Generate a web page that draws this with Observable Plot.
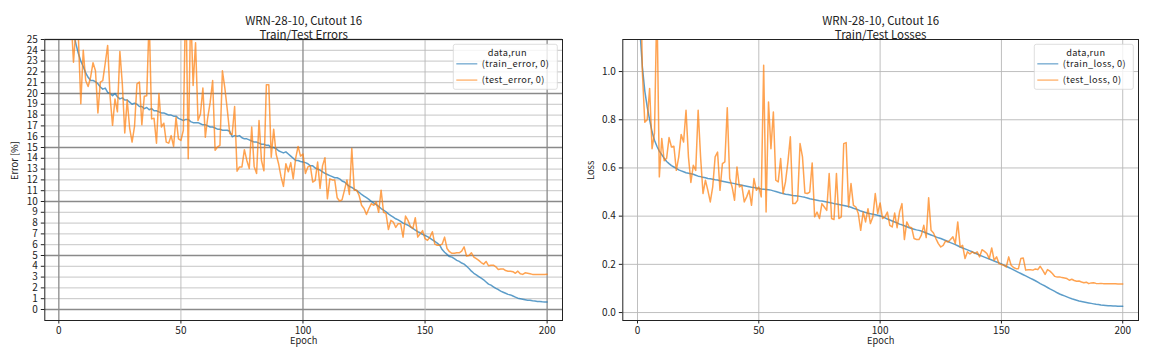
<!DOCTYPE html>
<html><head><meta charset="utf-8">
<script src="https://cdn.jsdelivr.net/npm/d3@7"></script>
<script src="https://cdn.jsdelivr.net/npm/@observablehq/plot@0.6"></script>
<style>
body{margin:0;background:#fff;}
#wrap{width:1152px;height:360px;display:flex;}
#wrap svg{display:block;}
</style></head><body><div id="wrap"></div>
<script>
const epochs = d3.range(1, 201);

const trainError = [45,36,31,28.5,26.8,25.6,24.6,23.7,23.0,22.5,
21.9,21.5,21.2,21.2,21.1,20.9,20.6,20.4,20.5,20.1,
20.0,19.8,20.0,19.7,19.5,19.6,19.4,19.4,19.2,19.0,
19.1,19.0,18.8,18.8,18.6,18.7,18.5,18.6,18.4,18.4,
18.3,18.2,18.2,18.1,18.0,18.0,17.9,17.9,17.7,17.6,
17.5,17.6,17.6,17.4,17.3,17.3,17.3,17.2,17.1,17.1,
17.0,16.9,16.9,16.8,16.7,16.7,16.6,16.6,16.6,16.5,
16.0,16.1,16.05,16.1,15.9,15.8,15.8,15.7,15.6,15.5,
15.5,15.4,15.3,15.3,15.2,15.2,15.0,15.0,14.9,14.7,
14.6,14.5,14.6,14.4,14.2,14.0,13.8,13.8,13.7,13.65,
13.6,13.5,13.3,13.3,13.1,13.0,12.9,12.75,12.6,12.5,
12.4,12.3,12.2,12.2,12.1,11.9,11.8,11.6,11.4,11.3,
11.15,11.0,10.85,10.65,10.5,10.35,10.2,10.0,9.85,9.7,
9.55,9.35,9.2,9.05,8.85,8.7,8.55,8.4,8.3,8.15,
8.0,7.9,7.8,7.65,7.5,7.35,7.2,7.1,6.95,6.85,
6.75,6.6,6.45,6.3,6.15,5.95,5.55,5.3,5.1,4.9,
4.85,4.7,4.55,4.45,4.3,4.2,4.0,3.8,3.55,3.35,
3.2,3.05,2.9,2.75,2.55,2.35,2.25,2.1,1.95,1.85,
1.7,1.6,1.5,1.4,1.35,1.25,1.15,1.05,1.0,0.95,
0.9,0.85,0.85,0.8,0.78,0.75,0.75,0.72,0.7,0.7];

const testError = [62,45,36,31,27.1,22.9,26,25.3,19.05,24,
21.2,20.65,21.5,22.85,22.1,18.2,21.05,21.2,22.8,24.45,
19.7,17.05,19.5,18.3,23.9,20.9,16.35,19.4,16.8,15.5,
16.95,20.9,21.05,17.1,19.75,19.8,27,17.65,17.7,15.4,
20,16.9,17.25,15.5,15.4,16.1,15.1,17.8,15.8,15.65,
16.6,30,13.95,28,20.75,24.7,17.5,18.1,20.5,15.95,
17.8,19.2,21.2,14.75,15.05,15.2,22.1,20.5,18.5,16.3,
16.2,18.8,12.8,13.2,13.2,14.8,13.8,13.05,16.9,13.25,
12.6,17.5,13.8,12.85,20.8,20.8,14.1,16.7,14.4,13.5,
12.3,11.4,13.5,12.75,13.6,12.1,14.0,15.1,14.2,14.4,
12.6,13.2,13.3,11.8,11.95,13.65,11.2,13.3,14.05,10.25,
12.1,12.0,12.0,10.35,10.05,10.15,11.05,12.0,10.65,14.9,
11.05,11.05,10.55,9.65,9.35,8.8,9.35,9.8,9.65,9.95,
9.0,11.05,9.0,8.9,7.4,8.25,8.1,7.6,7.95,7.95,
6.7,8.65,8.25,7.7,7.5,8.5,6.7,7.0,7.3,6.55,
6.4,6.7,7.2,6.05,5.95,5.95,6.05,6.7,5.65,5.35,
5.2,5.2,5.25,5.25,5.4,5.8,4.95,5.0,5.25,4.85,
4.7,4.55,4.35,4.2,4.45,4.05,4.1,4.1,3.95,3.7,
3.75,3.75,3.6,3.55,3.55,3.5,3.35,3.55,3.3,3.25,
3.4,3.35,3.3,3.25,3.25,3.25,3.25,3.25,3.25,3.27];

const trainLoss = [1.17,1.02,0.92,0.853,0.80,0.75,0.715,0.69,0.67,0.655,
0.64,0.627,0.618,0.61,0.604,0.598,0.592,0.588,0.584,0.58,
0.578,0.576,0.574,0.57,0.566,0.564,0.561,0.559,0.556,0.555,
0.553,0.551,0.55,0.547,0.545,0.543,0.541,0.539,0.537,0.535,
0.532,0.53,0.528,0.526,0.524,0.522,0.52,0.519,0.517,0.515,
0.513,0.512,0.511,0.51,0.508,0.505,0.502,0.499,0.496,0.494,
0.491,0.49,0.488,0.486,0.485,0.484,0.482,0.48,0.478,0.475,
0.472,0.47,0.468,0.466,0.464,0.463,0.461,0.459,0.457,0.455,
0.452,0.45,0.448,0.446,0.444,0.442,0.44,0.437,0.433,0.43,
0.426,0.421,0.418,0.415,0.412,0.41,0.408,0.406,0.404,0.401,
0.398,0.393,0.388,0.384,0.38,0.376,0.372,0.367,0.364,0.36,
0.356,0.352,0.349,0.346,0.343,0.341,0.338,0.334,0.33,0.326,
0.322,0.318,0.314,0.31,0.307,0.303,0.299,0.295,0.29,0.286,
0.282,0.277,0.272,0.268,0.264,0.26,0.256,0.252,0.247,0.243,
0.238,0.234,0.23,0.226,0.222,0.218,0.214,0.21,0.206,0.202,
0.197,0.192,0.187,0.182,0.177,0.172,0.167,0.162,0.157,0.152,
0.147,0.142,0.137,0.132,0.126,0.12,0.115,0.11,0.104,0.098,
0.093,0.088,0.082,0.077,0.073,0.069,0.065,0.061,0.057,0.054,
0.051,0.048,0.046,0.044,0.042,0.04,0.038,0.036,0.034,0.033,
0.031,0.03,0.029,0.028,0.028,0.027,0.027,0.026,0.026,0.026];

const testLoss = [1.6,1.0,0.79,0.80,0.93,0.68,0.743,1.3,0.563,0.722,
0.63,0.64,0.726,0.687,0.69,0.59,0.646,0.739,0.708,0.839,
0.646,0.54,0.611,0.59,0.839,0.646,0.494,0.549,0.507,0.459,
0.521,0.646,0.666,0.507,0.618,0.625,0.85,0.556,0.521,0.466,
0.604,0.521,0.528,0.459,0.48,0.507,0.445,0.556,0.507,0.521,
0.48,1.026,0.417,0.874,0.68,0.832,0.549,0.542,0.639,0.494,
0.542,0.625,0.729,0.452,0.452,0.466,0.701,0.646,0.496,0.494,
0.5,0.621,0.397,0.417,0.39,0.452,0.438,0.424,0.577,0.39,
0.386,0.577,0.39,0.397,0.701,0.705,0.438,0.535,0.445,0.438,
0.411,0.341,0.417,0.376,0.431,0.369,0.397,0.494,0.411,0.455,
0.39,0.397,0.417,0.362,0.355,0.413,0.352,0.417,0.452,0.303,
0.376,0.355,0.352,0.307,0.303,0.303,0.321,0.362,0.311,0.476,
0.341,0.33,0.307,0.286,0.272,0.279,0.297,0.293,0.303,0.314,
0.286,0.376,0.272,0.279,0.224,0.252,0.243,0.252,0.245,0.252,
0.231,0.261,0.254,0.245,0.224,0.268,0.217,0.231,0.203,0.199,
0.196,0.189,0.231,0.196,0.187,0.182,0.182,0.224,0.226,0.176,
0.178,0.178,0.176,0.181,0.178,0.192,0.176,0.158,0.178,0.172,
0.162,0.15,0.147,0.148,0.145,0.143,0.141,0.134,0.138,0.133,
0.13,0.131,0.127,0.124,0.126,0.12,0.123,0.124,0.121,0.12,
0.121,0.12,0.12,0.12,0.119,0.119,0.119,0.118,0.118,0.118];

const xTicks = [0, 50, 100, 150, 200];
const errTicks = d3.range(0, 26);
const errMajor = [0, 5, 10, 15, 20, 25];
const lossTicks = [0, 0.2, 0.4, 0.6, 0.8, 1.0];
const titleLine = "WRN-28-10, Cutout 16";
const legendTitle = "data,run";

const FONT = "'Noto Sans CJK JP', 'Noto Sans', sans-serif";
const BLUE = "#1f77b4", ORANGE = "#ff7f0e";

function rows(values, name) {
  return values.map((v, i) => ({epoch: epochs[i], value: v, series: name}));
}

function legendMark(items, boxW) {
  return (index, scales, values, dims) => {
    const right = dims.width - dims.marginRight;
    const x0 = right - 4.7 - boxW, y0 = dims.marginTop + 5.3, h = 45;
    const g = d3.create("svg:g").attr("font-family", FONT).attr("font-size", 9.2)
      .attr("fill", "#222").attr("letter-spacing", "0.35px");
    g.append("rect").attr("x", x0).attr("y", y0).attr("width", boxW).attr("height", h)
      .attr("rx", 2).attr("fill", "white").attr("fill-opacity", 0.8).attr("stroke", "#d6d6d6").attr("stroke-width", 0.8);
    g.append("text").attr("x", x0 + boxW / 2 + 2).attr("y", y0 + 8.5).attr("dy", "0.35em")
      .attr("text-anchor", "middle").text(legendTitle);
    items.forEach((it, k) => {
      const cy = y0 + 19.5 + k * 16.3;
      g.append("line").attr("x1", x0 + 3).attr("x2", x0 + 24).attr("y1", cy).attr("y2", cy)
        .attr("stroke", it.color).attr("stroke-opacity", 0.55).attr("stroke-width", 1.5);
      g.append("text").attr("x", x0 + 28.5).attr("y", cy).attr("dy", "0.35em")
        .attr("text-anchor", "start").text(it.label);
    });
    return g.node();
  };
}

function panel(cfg) {
  const data = cfg.series.flatMap(s => rows(s.values, s.label));
  const marks = [];
  if (cfg.yMinor) marks.push(Plot.gridY(cfg.yMinor, {stroke: "#b8b8b8", strokeOpacity: 1, strokeWidth: 0.8}));
  marks.push(Plot.gridY(cfg.yMajor, {stroke: cfg.yMinor ? "#8a8a8a" : "#b8b8b8", strokeOpacity: 1, strokeWidth: cfg.yMinor ? 1.3 : 0.9}));
  if (cfg.xMinor) marks.push(Plot.gridX(cfg.xMinor, {stroke: "#b8b8b8", strokeOpacity: 1, strokeWidth: 0.9}));
  marks.push(Plot.gridX(cfg.xMajor, {stroke: cfg.xMinor ? "#8a8a8a" : "#b8b8b8", strokeOpacity: 1, strokeWidth: cfg.xMinor ? 1.3 : 0.9}));
  cfg.series.forEach(s => {
    marks.push(Plot.lineY(data.filter(d => d.series === s.label), {
      x: "epoch", y: "value", stroke: s.color, strokeOpacity: 0.72, strokeWidth: 1.5, clip: true
    }));
  });
  marks.push(Plot.frame({stroke: "#222", strokeWidth: 1}));
  marks.push(Plot.axisX(xTicks, {tickSize: 3.5, tickPadding: 2.5, fontSize: 10, label: null, stroke: "#222", fill: "#222"}));
  marks.push(Plot.axisY(cfg.yTicks, {tickSize: 3.5, tickPadding: 3.5, fontSize: 10, label: null, tickFormat: cfg.fmt, stroke: "#222", fill: "#222"}));
  marks.push(Plot.text([cfg.yLabel], {frameAnchor: "left", dx: -cfg.yLabelOffset, rotate: -90, fontSize: 9.3, fill: "#222", letterSpacing: "0.3px"}));
  marks.push(Plot.text(["Epoch"], {frameAnchor: "bottom", dy: 23, fontSize: 9.3, fill: "#222", letterSpacing: "0.3px"}));
  marks.push(Plot.text([titleLine], {frameAnchor: "top", dy: -22.5, fontSize: 11.5, fill: "#222", letterSpacing: "0.4px"}));
  marks.push(Plot.text([cfg.subtitle], {frameAnchor: "top", dy: -8.5, fontSize: 11.5, fill: "#222", letterSpacing: "0.4px"}));
  marks.push(legendMark(cfg.series.map(s => ({label: s.label, color: s.color})), cfg.boxW));
  return Plot.plot({
    width: 576, height: 360,
    marginLeft: cfg.mLeft, marginRight: cfg.mRight, marginTop: 39, marginBottom: 40,
    style: {fontFamily: FONT, fontSize: "10px", color: "#222", background: "white", overflow: "visible"},
    x: {domain: cfg.xDomain},
    y: {domain: cfg.yDomain},
    marks
  });
}

const wrap = document.getElementById("wrap");
wrap.append(panel({
  series: [{label: "(train_error, 0)", values: trainError, color: BLUE},
           {label: "(test_error, 0)", values: testError, color: ORANGE}],
  xDomain: [-5.75, 206.3],
  yDomain: [-1.02, 25], yTicks: errTicks, yMajor: errMajor, yMinor: errTicks,
  xMajor: [0, 100, 200], xMinor: [50, 150],
  yLabel: "Error [%]", yLabelOffset: 30, subtitle: "Train/Test Errors",
  fmt: d => String(d), mLeft: 44.3, mRight: 14, boxW: 104
}));
wrap.append(panel({
  series: [{label: "(train_loss, 0)", values: trainLoss, color: BLUE},
           {label: "(test_loss, 0)", values: testLoss, color: ORANGE}],
  xDomain: [-6.06, 206.5],
  yDomain: [-0.033, 1.133], yTicks: lossTicks, yMajor: lossTicks, yMinor: null,
  xMajor: xTicks, xMinor: null,
  yLabel: "Loss", yLabelOffset: 32, subtitle: "Train/Test Losses",
  fmt: d3.format(".1f"), mLeft: 46.3, mRight: 14, boxW: 99
}));
</script></body></html>
